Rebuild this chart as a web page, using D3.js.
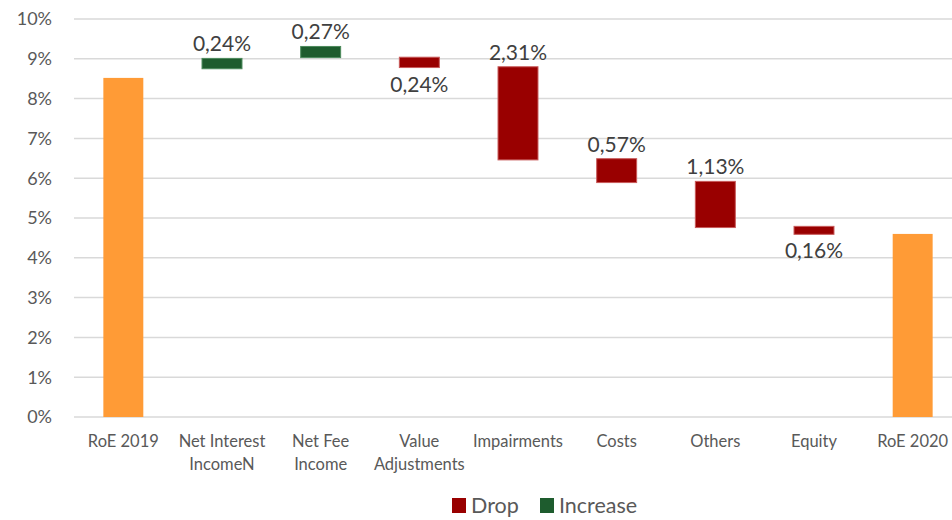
<!DOCTYPE html>
<html>
<head>
<meta charset="utf-8">
<script src="https://cdn.jsdelivr.net/npm/d3@7"></script>
<style>
  html, body { margin: 0; padding: 0; background: #fff; }
  #chart { width: 952px; height: 520px; }
</style>
</head>
<body>
<div id="chart"></div>
<script>
// categories (line breaks as on the axis)
const categories = ["RoE 2019", "Net Interest|IncomeN", "Net Fee|Income", "Value|Adjustments",
  "Impairments", "Costs", "Others", "Equity", "RoE 2020"];
// bar start / end in %
const barStart = [0, 8.75, 9.03, 9.04, 8.80, 6.49, 5.92, 4.79, 0];
const barEnd   = [8.52, 9.01, 9.31, 8.78, 6.46, 5.89, 4.76, 4.59, 4.60];
const barType  = ["total", "increase", "increase", "drop", "drop", "drop", "drop", "drop", "total"];
const labels   = ["", "0,24%", "0,27%", "0,24%", "2,31%", "0,57%", "1,13%", "0,16%", ""];
const labelPos = ["", "above", "above", "below", "above", "above", "above", "below", ""];
const yTicks   = [0, 1, 2, 3, 4, 5, 6, 7, 8, 9, 10];
const legendItems = ["Drop", "Increase"];

const fill = { total: "#FF9B36", increase: "#1E5C2E", drop: "#990000" };
const stroke = { total: "none", increase: "#4C8A5C", drop: "#C85A5A" };
const font = "Lato, 'Open Sans', sans-serif";

const W = 952, H = 520;
const margin = { top: 19, right: -10, bottom: 103, left: 74 };

const svg = d3.select("#chart").append("svg")
  .attr("width", W).attr("height", H)
  .attr("viewBox", `0 0 ${W} ${H}`);

const x = d3.scaleBand()
  .domain(d3.range(categories.length))
  .range([margin.left, W - margin.right])
  .paddingInner(0.595).paddingOuter(0.2975);

const y = d3.scaleLinear()
  .domain([0, 10])
  .range([H - margin.bottom, margin.top]);

// gridlines
svg.append("g")
  .selectAll("line")
  .data(yTicks)
  .join("line")
  .attr("x1", margin.left).attr("x2", W)
  .attr("y1", d => y(d)).attr("y2", d => y(d))
  .attr("stroke", "#D9D9D9")
  .attr("stroke-width", 1.5);

// y axis labels
svg.append("g")
  .selectAll("text")
  .data(yTicks)
  .join("text")
  .attr("x", 52).attr("y", d => y(d))
  .attr("dy", "0.35em")
  .attr("text-anchor", "end")
  .attr("font-family", font)
  .attr("font-size", 18)
  .attr("fill", "#595959")
  .text(d => d + "%");

// bars
svg.append("g")
  .selectAll("rect")
  .data(categories.map((c, i) => i))
  .join("rect")
  .attr("x", i => x(i))
  .attr("width", x.bandwidth())
  .attr("y", i => y(Math.max(barStart[i], barEnd[i])))
  .attr("height", i => Math.abs(y(barStart[i]) - y(barEnd[i])))
  .attr("fill", i => fill[barType[i]])
  .attr("stroke", i => stroke[barType[i]])
  .attr("stroke-width", 1);

// data labels
svg.append("g")
  .selectAll("text")
  .data(categories.map((c, i) => i).filter(i => labels[i]))
  .join("text")
  .attr("x", i => x(i) + x.bandwidth() / 2)
  .attr("y", i => labelPos[i] === "above"
    ? y(Math.max(barStart[i], barEnd[i])) - 7
    : y(Math.min(barStart[i], barEnd[i])) + 24)
  .attr("text-anchor", "middle")
  .attr("font-family", font)
  .attr("font-size", 21)
  .attr("fill", "#404040")
  .text(i => labels[i]);

// category labels
const cat = svg.append("g")
  .selectAll("text")
  .data(categories.map((c, i) => i))
  .join("text")
  .attr("x", i => x(i) + x.bandwidth() / 2)
  .attr("y", 447)
  .attr("text-anchor", "middle")
  .attr("font-family", font)
  .attr("font-size", 16.5)
  .attr("fill", "#595959");
cat.selectAll("tspan")
  .data(i => categories[i].split("|").map(s => ({ s, i })))
  .join("tspan")
  .attr("x", d => x(d.i) + x.bandwidth() / 2)
  .attr("dy", (d, k) => k === 0 ? 0 : 23)
  .text(d => d.s);

// legend
const legendX = [452, 540];
const legendColor = [fill.drop, fill.increase];
const lg = svg.append("g")
  .selectAll("g")
  .data(legendItems)
  .join("g")
  .attr("transform", (d, k) => `translate(${legendX[k]},498)`);
lg.append("rect")
  .attr("width", 14).attr("height", 15)
  .attr("fill", (d, k) => legendColor[k]);
lg.append("text")
  .attr("x", 19).attr("y", 15)
  .attr("font-family", font)
  .attr("font-size", 21.5)
  .attr("fill", "#595959")
  .text(d => d);
</script>
</body>
</html>
